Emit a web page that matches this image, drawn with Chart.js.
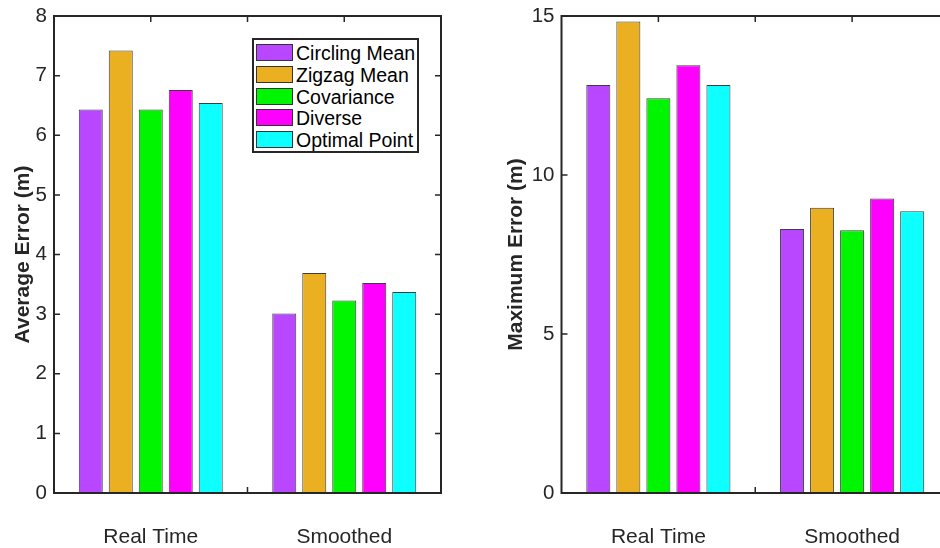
<!DOCTYPE html>
<html>
<head>
<meta charset="utf-8">
<title>Localization error</title>
<script src="https://cdn.jsdelivr.net/npm/chart.js@4.4.1/dist/chart.umd.min.js"></script>
<style>
  html, body { margin: 0; padding: 0; background: #fff; overflow: hidden; }
  #page { position: relative; width: 940px; height: 548px; overflow: hidden; }
  .panel { position: absolute; top: 0; height: 548px; }
  #left { left: 0; width: 470px; }
  #right { left: 470px; width: 480px; }
  #legend {
    position: absolute; left: 252px; top: 38px; width: 163px; height: 111px;
    border: 2px solid #262626; background: #fff;
    font-family: "Liberation Sans", Arial, sans-serif; font-size: 19.5px; color: #000;
  }
  .row { position: absolute; left: 2px; height: 18px; white-space: nowrap; }
  .sw { position: absolute; left: 0; top: 0; width: 35px; height: 15px; border: 1px solid #333; }
  .lbl { position: absolute; left: 40px; top: -3px; line-height: 24px; }
</style>
</head>
<body>
<div id="page">
  <div class="panel" id="left"><canvas id="avgChart"></canvas></div>
  <div class="panel" id="right"><canvas id="maxChart"></canvas></div>
  <div id="legend"></div>
</div>
<script>
/***********************
 * DATA
 ***********************/
const categories = ["Real Time", "Smoothed"];
const methods = ["Circling Mean", "Zigzag Mean", "Covariance", "Diverse", "Optimal Point"];
const colors = ["#B847FF", "#EBB022", "#00F500", "#FF00FF", "#0DFFFF"];

// average error (m)
const avgCircling = [6.43, 3.01];
const avgZigzag = [7.42, 3.69];
const avgCovariance = [6.43, 3.23];
const avgDiverse = [6.76, 3.52];
const avgOptimal = [6.54, 3.37];

// maximum error (m)
const maxCircling = [12.83, 8.30];
const maxZigzag = [14.83, 8.97];
const maxCovariance = [12.41, 8.26];
const maxDiverse = [13.45, 9.26];
const maxOptimal = [12.83, 8.86];

const avgTicks = [0, 1, 2, 3, 4, 5, 6, 7, 8];
const maxTicks = [0, 5, 10, 15];

/***********************
 * Helpers
 ***********************/
const FONT = "'Liberation Sans', Arial, sans-serif";
const INK = "#262626";

// box around the plot area with inward ticks on every side
const matlabFrame = {
  id: "matlabFrame",
  beforeDatasetsDraw(chart) {
    const { ctx, chartArea: a, scales } = chart;
    const len = 6;
    ctx.save();
    ctx.strokeStyle = INK;
    ctx.lineWidth = 1.5;
    ctx.beginPath();
    scales.y.ticks.forEach((t) => {
      const y = scales.y.getPixelForValue(t.value);
      ctx.moveTo(a.left, y); ctx.lineTo(a.left + len, y);
      ctx.moveTo(a.right, y); ctx.lineTo(a.right - len, y);
    });
    const xs = [];
    for (let i = 0; i < categories.length; i++) {
      xs.push(scales.x.getPixelForValue(i));
      if (i < categories.length - 1) xs.push((scales.x.getPixelForValue(i) + scales.x.getPixelForValue(i + 1)) / 2);
    }
    xs.forEach((x) => {
      ctx.moveTo(x, a.top); ctx.lineTo(x, a.top + len);
      ctx.moveTo(x, a.bottom); ctx.lineTo(x, a.bottom - len);
    });
    ctx.stroke();
    ctx.restore();
  },
  afterDatasetsDraw(chart) {
    const { ctx, chartArea: a } = chart;
    ctx.save();
    ctx.strokeStyle = INK;
    ctx.lineWidth = 2;
    ctx.strokeRect(a.left, a.top, a.right - a.left, a.bottom - a.top);
    ctx.restore();
  },
};

function makeDatasets(series) {
  return series.map((vals, i) => ({
    label: methods[i],
    data: vals,
    backgroundColor: colors[i],
    borderColor: "rgba(40,40,40,0.9)",
    borderWidth: 1,
    borderSkipped: false,
    categoryPercentage: 0.775,
    barPercentage: 0.8,
  }));
}

function makeChart(id, series, ticks, title, cfg) {
  const el = document.getElementById(id);
  return new Chart(el, {
    type: "bar",
    data: { labels: categories, datasets: makeDatasets(series) },
    options: {
      responsive: true,
      maintainAspectRatio: false,
      animation: false,
      layout: { padding: { top: 16, right: cfg.padRight, left: 0, bottom: 0 } },
      plugins: { legend: { display: false }, tooltip: { enabled: false } },
      scales: {
        x: {
          grid: { display: false, drawTicks: false },
          border: { display: false },
          ticks: { color: INK, font: { family: FONT, size: 21 }, padding: 32, maxRotation: 0 },
          afterFit: (s) => { s.height = 55; },
        },
        y: {
          min: ticks[0],
          max: ticks[ticks.length - 1],
          afterBuildTicks: (s) => { s.ticks = ticks.map((v) => ({ value: v })); },
          grid: { display: false, drawTicks: false },
          border: { display: false },
          ticks: { color: INK, font: { family: FONT, size: 20.5 }, padding: 7 },
          title: {
            display: true,
            text: title,
            color: INK,
            font: { family: FONT, size: 21, weight: "bold" },
            padding: { top: cfg.titlePad, bottom: 0 },
          },
          afterFit: (s) => {
            s.width = cfg.axisWidth;
            // let the plot box reach the layout padding, labels may overhang
            s.paddingTop = 0;
            s.paddingBottom = 0;
          },
        },
      },
    },
    plugins: [matlabFrame],
  });
}

/***********************
 * Legend
 ***********************/
function buildLegend(chart) {
  const box = document.getElementById("legend");
  chart.data.datasets.forEach((ds, i) => {
    const row = document.createElement("div");
    row.className = "row";
    row.style.top = (4 + i * 21.8) + "px";
    row.innerHTML = `<span class="sw" style="background:${ds.backgroundColor}"></span><span class="lbl">${ds.label}</span>`;
    box.appendChild(row);
  });
}

/***********************
 * INIT
 ***********************/
const avgChart = makeChart(
  "avgChart",
  [avgCircling, avgZigzag, avgCovariance, avgDiverse, avgOptimal],
  avgTicks,
  "Average Error (m)",
  { padRight: 29, axisWidth: 54, titlePad: 11 }
);
makeChart(
  "maxChart",
  [maxCircling, maxZigzag, maxCovariance, maxDiverse, maxOptimal],
  maxTicks,
  "Maximum Error (m)",
  { padRight: 1, axisWidth: 91.5, titlePad: 34 }
);
buildLegend(avgChart);
</script>
</body>
</html>
